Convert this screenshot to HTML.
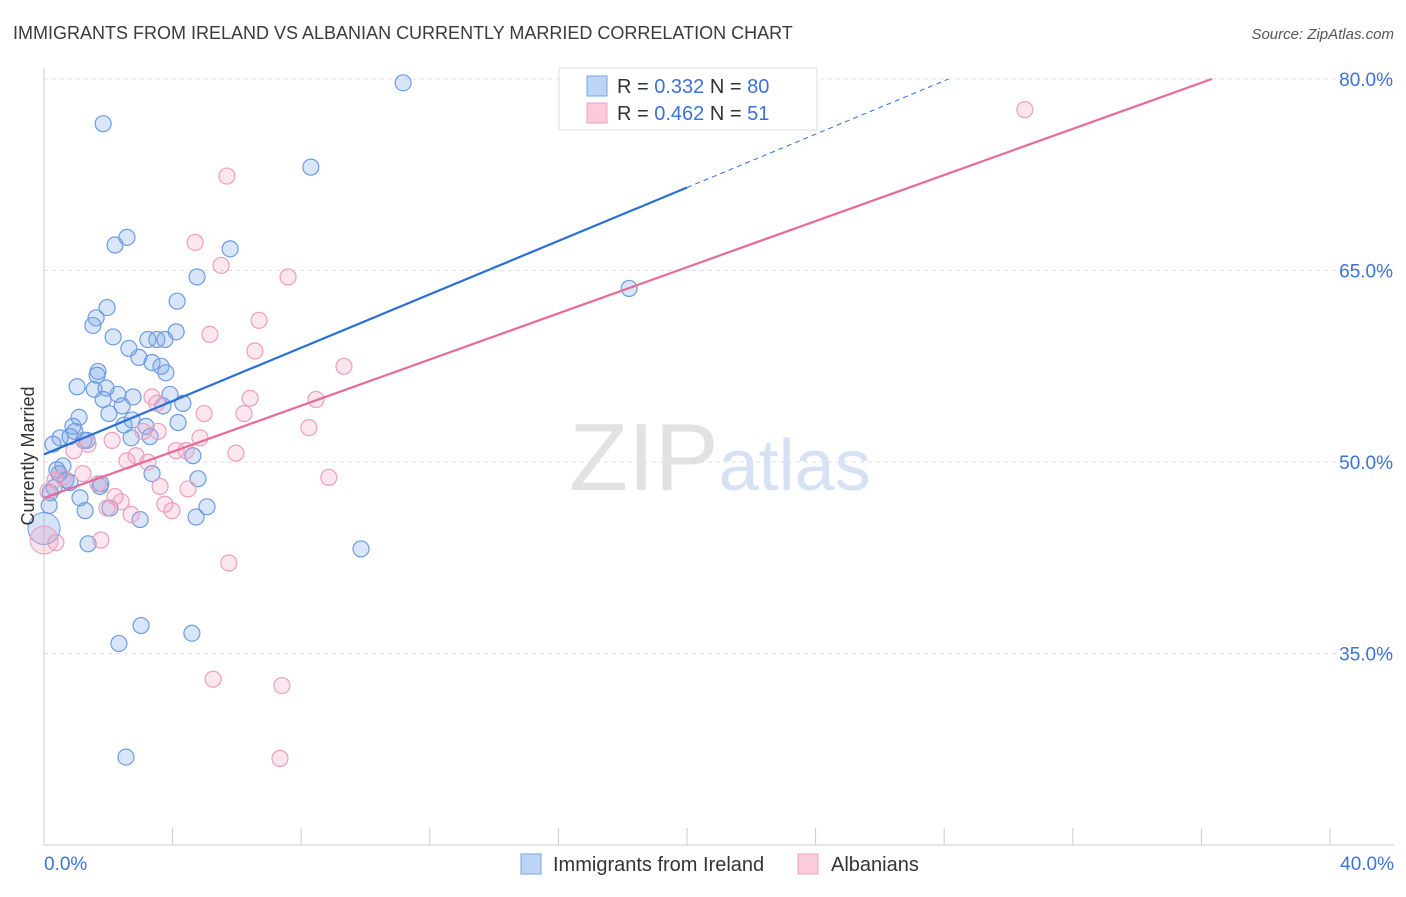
<!DOCTYPE html>
<html><head><meta charset="utf-8"><style>
body{margin:0;background:#fff;font-family:"Liberation Sans",sans-serif}
svg text{font-family:"Liberation Sans",sans-serif}
</style></head><body>
<svg id="chart" width="1406" height="892" viewBox="0 0 1406 892" xmlns="http://www.w3.org/2000/svg">
<text x="13" y="39" font-size="18" fill="#3a3a3a">IMMIGRANTS FROM IRELAND VS ALBANIAN CURRENTLY MARRIED CORRELATION CHART</text>
<text x="1394" y="39" font-size="15" fill="#555" font-style="italic" text-anchor="end">Source: ZipAtlas.com</text>
<text x="720" y="490" font-size="96" fill="#e2e2e2" text-anchor="middle" font-family="Liberation Serif">ZIP<tspan fill="#d6e2f3" font-family="Liberation Sans" font-size="72">atlas</tspan></text>
<g id="grid"></g>
<g id="axes"></g>
<g id="points"></g>
<g id="lines"></g>
<text transform="translate(34,456) rotate(-90)" font-size="18" fill="#333" text-anchor="middle">Currently Married</text>
<g>
<rect x="559" y="68" width="258" height="62" fill="#fff" stroke="#ddd"/>
<rect x="587" y="76" width="20" height="20" fill="#bcd4f5" stroke="#7aa3e3"/>
<rect x="587" y="103" width="20" height="20" fill="#f9cbdb" stroke="#f0a0bc"/>
<text x="617" y="93" font-size="20" fill="#333">R = <tspan fill="#3b73d9">0.332</tspan>   N = <tspan fill="#3b73d9">80</tspan></text>
<text x="617" y="120" font-size="20" fill="#333">R = <tspan fill="#3b73d9">0.462</tspan>   N = <tspan fill="#3b73d9"> 51</tspan></text>
</g>
<g>
<rect x="521" y="854" width="20" height="20" fill="#bcd4f5" stroke="#7aa3e3"/>
<text x="553" y="871" font-size="20" fill="#333">Immigrants from Ireland</text>
<rect x="798" y="854" width="20" height="20" fill="#f9cbdb" stroke="#f0a0bc"/>
<text x="831" y="871" font-size="20" fill="#333">Albanians</text>
</g>
</svg>
<script>
const yTicks=[35,50,65,80];
const xTickLabels=["0.0%","40.0%"];
const blueX=[11.17,1.84,8.30,2.58,2.21,5.79,4.76,4.14,1.96,1.62,1.52,2.15,4.11,3.23,3.51,3.76,2.64,2.95,3.36,3.64,3.79,1.68,1.65,1.03,1.56,1.93,2.30,2.77,3.92,1.84,2.43,4.32,3.70,2.02,1.09,2.49,2.74,3.17,4.17,0.90,0.96,0.50,0.81,0.28,1.34,2.71,4.63,3.36,0.59,0.47,0.68,0.81,0.31,0.19,1.12,1.74,2.05,1.28,4.79,5.07,4.73,2.99,1.37,9.86,0.16,18.20,3.02,4.60,2.33,2.55,0.40,1.77,1.24,3.30];
const blueY=[79.7,76.5,73.1,67.6,67.0,66.7,64.5,62.6,62.1,61.3,60.7,59.8,60.2,59.6,59.6,59.6,58.9,58.2,57.8,57.5,57.0,57.1,56.8,55.9,55.7,55.8,55.3,55.1,55.3,54.9,54.4,54.6,54.4,53.8,53.5,52.9,53.3,52.8,53.1,52.8,52.4,51.9,52.0,51.4,51.7,51.9,50.5,49.1,49.7,49.1,48.6,48.4,48.0,47.6,47.2,48.1,46.4,46.2,48.7,46.5,45.7,45.5,43.6,43.2,46.6,63.6,37.2,36.6,35.8,26.9,49.4,48.3,51.7,52.0];
const pinkX=[30.51,5.69,4.70,5.51,7.59,6.69,5.16,6.56,9.33,6.41,3.36,8.46,3.51,4.98,6.22,8.24,3.08,3.55,4.85,2.12,1.37,0.93,4.11,4.42,5.97,2.58,2.86,3.23,1.21,0.59,0.34,8.86,1.68,3.61,4.48,0.12,2.21,2.40,1.96,3.76,3.98,2.71,1.77,0.37,5.75,5.26,7.40,7.34];
const pinkY=[77.6,72.4,67.2,65.4,64.5,61.1,60.0,58.7,57.5,55.0,55.1,54.9,54.6,53.8,53.8,52.7,52.4,52.4,51.9,51.7,51.4,50.9,50.9,50.9,50.7,50.1,50.5,50.0,49.1,48.8,48.6,48.8,48.3,48.1,47.9,47.7,47.3,46.9,46.4,46.7,46.2,45.9,43.9,43.7,42.1,33.0,32.5,26.8];
const blueLine=[50.6,1.045];   // intercept, slope
const pinkLine=[47.2,0.903];
const NS="http://www.w3.org/2000/svg";
const X=v=>44+v*32.15, Y=v=>79+(80-v)*12.77;
function mk(tag,attrs,parent){const e=document.createElementNS(NS,tag);for(const k in attrs)e.setAttribute(k,attrs[k]);document.getElementById(parent).appendChild(e);return e;}
yTicks.forEach(t=>{
 const g=mk('line',{x1:44,x2:1394,y1:Y(t),y2:Y(t),stroke:'#e0e0e0','stroke-dasharray':'4,4'},'grid');
 
 
 const l=mk('text',{x:1393,y:Y(t)+7,'font-size':19,fill:'#3b73d9','text-anchor':'end'},'grid');
 l.textContent=t.toFixed(1)+'%';
 
 
});
const ax=mk('line',{x1:44,x2:44,y1:68,y2:845,stroke:'#ccc'},'axes');


const bx=mk('line',{x1:44,x2:1394,y1:845,y2:845,stroke:'#ccc'},'axes');


for(let i=0;i<=10;i++){
 const t=mk('line',{x1:X(i*4),x2:X(i*4),y1:828,y2:845,stroke:'#ccc'},'axes');
 
 
}
[[0,'start'],[40,'end']].forEach((p,i)=>{
 const t=mk('text',{x:i?1394:44,y:870,'font-size':19,fill:'#3b73d9','text-anchor':p[1]},'axes');
 t.textContent=xTickLabels[i];
 
 
});
function pts(xs,ys,fill,stroke,name){
 xs.forEach((x,i)=>{
  const c=mk('circle',{cx:X(x),cy:Y(ys[i]),r:8,fill:fill,stroke:stroke,'stroke-width':1.2},'points');
  
  
 });
}
pts(blueX,blueY,'rgba(120,165,235,0.28)','#6d9be0','ireland-point');
pts(pinkX,pinkY,'rgba(245,160,190,0.25)','#ef9dbb','albanian-point');
const bb=mk('circle',{cx:X(0),cy:Y(44.8),r:16,fill:'rgba(120,165,235,0.3)',stroke:'#6d9be0'},'points');


const pb=mk('circle',{cx:X(0),cy:Y(43.9),r:14,fill:'rgba(245,160,190,0.3)',stroke:'#ef9dbb'},'points');


const b1=mk('line',{x1:X(0),y1:Y(blueLine[0]),x2:X(20),y2:Y(blueLine[0]+20*blueLine[1]),stroke:'#2a6fd6','stroke-width':2.2},'lines');


const xe=(80-blueLine[0])/blueLine[1];
const b2=mk('line',{x1:X(20),y1:Y(blueLine[0]+20*blueLine[1]),x2:X(xe),y2:Y(80),stroke:'#2a6fd6','stroke-width':1,'stroke-dasharray':'5,4'},'lines');


const pe=(80-pinkLine[0])/pinkLine[1];
const p1=mk('line',{x1:X(0),y1:Y(pinkLine[0]),x2:X(pe),y2:Y(80),stroke:'#e8699a','stroke-width':2.2},'lines');


</script>
</body></html>
